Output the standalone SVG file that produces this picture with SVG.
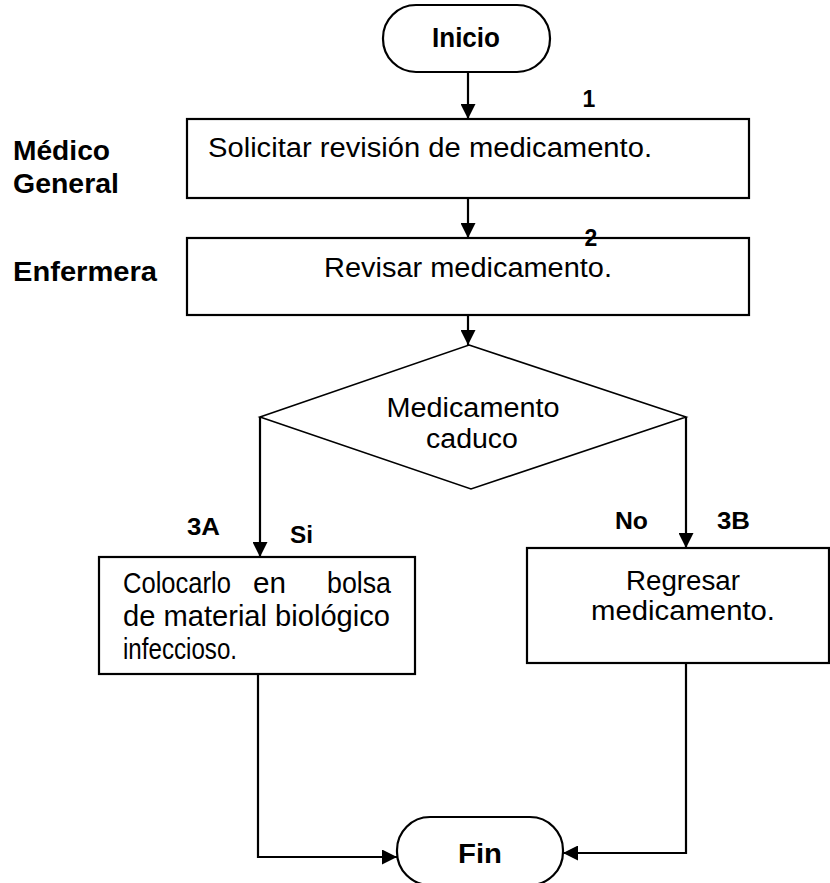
<svg xmlns="http://www.w3.org/2000/svg" width="830" height="883" viewBox="0 0 830 883">
<style>
.shape{fill:#fff;stroke:#000;stroke-width:2.2}
.edge{fill:none;stroke:#000;stroke-width:2.2}
.t{font-family:"Liberation Sans",Arial,sans-serif;font-size:27px;fill:#000}
.w{font-family:"Liberation Sans",Arial,sans-serif;font-size:29px;fill:#000}
.b{font-family:"Liberation Sans",Arial,sans-serif;font-size:27px;font-weight:bold;fill:#000}
.n{font-family:"Liberation Sans",Arial,sans-serif;font-size:23px;font-weight:bold;fill:#000}
</style>
<defs>
<marker id="ah" markerUnits="userSpaceOnUse" markerWidth="15" markerHeight="15" refX="15" refY="7.5" orient="auto">
<path d="M0,0 L15,7.5 L0,15 z" fill="#000"/>
</marker>
</defs>
<rect width="830" height="883" fill="#fff"/>
<g id="connectors">
<line class="edge" x1="468" y1="72" x2="468" y2="119" marker-end="url(#ah)"/>
<line class="edge" x1="468" y1="198" x2="468" y2="238" marker-end="url(#ah)"/>
<line class="edge" x1="468" y1="315" x2="468" y2="345" marker-end="url(#ah)"/>
<line class="edge" x1="260" y1="417" x2="260" y2="557" marker-end="url(#ah)"/>
<line class="edge" x1="686" y1="417" x2="686" y2="548" marker-end="url(#ah)"/>
<polyline class="edge" points="258,674 258,857 397,857" marker-end="url(#ah)"/>
<polyline class="edge" points="686,663 686,853 563,853" marker-end="url(#ah)"/>
</g>
<g id="inicio">
<rect class="shape" x="383" y="5" width="167" height="67" rx="33" ry="33"/>
<text class="b" x="466" y="47" text-anchor="middle" textLength="68" lengthAdjust="spacingAndGlyphs">Inicio</text>
</g>
<g id="paso1">
<rect class="shape" x="187" y="119" width="562" height="79"/>
<text class="t" x="208" y="157" textLength="444" lengthAdjust="spacingAndGlyphs">Solicitar revisión de medicamento.</text>
</g>
<g id="paso2">
<rect class="shape" x="187" y="238" width="562" height="77"/>
<text class="t" x="468" y="277" text-anchor="middle" textLength="288" lengthAdjust="spacingAndGlyphs">Revisar medicamento.</text>
</g>
<g id="decision">
<polygon class="shape" style="stroke-width:1.6" points="469,345 686,417 471,489 260,417"/>
<text class="t" x="473" y="417" text-anchor="middle" textLength="173" lengthAdjust="spacingAndGlyphs">Medicamento</text>
<text class="t" x="472" y="448" text-anchor="middle" textLength="92" lengthAdjust="spacingAndGlyphs">caduco</text>
</g>
<g id="paso3a">
<rect class="shape" x="99" y="557" width="316" height="117"/>
<text class="w" x="123" y="593" textLength="108" lengthAdjust="spacingAndGlyphs">Colocarlo</text>
<text class="w" x="253" y="593" textLength="33" lengthAdjust="spacingAndGlyphs">en</text>
<text class="w" x="327" y="593" textLength="64" lengthAdjust="spacingAndGlyphs">bolsa</text>
<text class="w" x="123" y="626" textLength="267" lengthAdjust="spacingAndGlyphs">de material biológico</text>
<text class="w" x="123" y="659" textLength="114" lengthAdjust="spacingAndGlyphs">infeccioso.</text>
</g>
<g id="paso3b">
<rect class="shape" x="527" y="548" width="302" height="115"/>
<text class="t" x="683" y="590" text-anchor="middle" textLength="114" lengthAdjust="spacingAndGlyphs">Regresar</text>
<text class="t" x="683" y="620" text-anchor="middle" textLength="184" lengthAdjust="spacingAndGlyphs">medicamento.</text>
</g>
<g id="fin">
<rect class="shape" x="397" y="817" width="166" height="68" rx="33" ry="33"/>
<text class="b" x="480" y="863" text-anchor="middle" textLength="44" lengthAdjust="spacingAndGlyphs">Fin</text>
</g>
<g id="labels">
<text class="b" x="13" y="160" textLength="97" lengthAdjust="spacingAndGlyphs">Médico</text>
<text class="b" x="13" y="193" textLength="106" lengthAdjust="spacingAndGlyphs">General</text>
<text class="b" x="13" y="281" textLength="144" lengthAdjust="spacingAndGlyphs">Enfermera</text>
<text class="n" x="589" y="107" text-anchor="middle">1</text>
<text class="n" x="591" y="246" text-anchor="middle">2</text>
<text class="n" x="187" y="535" textLength="33" lengthAdjust="spacingAndGlyphs">3A</text>
<text class="n" x="290" y="543" textLength="23" lengthAdjust="spacingAndGlyphs">Si</text>
<text class="n" x="615" y="529" textLength="33" lengthAdjust="spacingAndGlyphs">No</text>
<text class="n" x="717" y="529" textLength="33" lengthAdjust="spacingAndGlyphs">3B</text>
</g>
</svg>
